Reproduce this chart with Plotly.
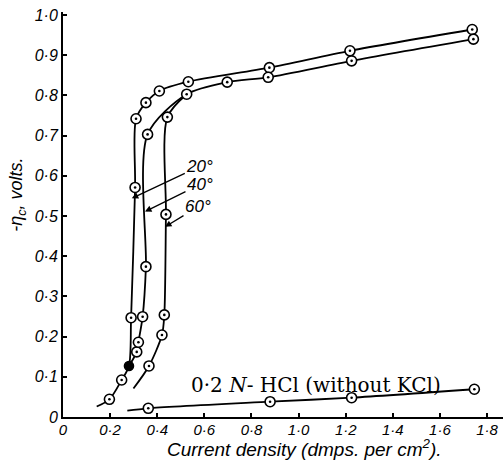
import plotly.graph_objects as go

# Cathode overpotential vs current density at three temperatures
# (line lead-in points carry no marker; marker lists hold measured points)
t20_line_x = [0.143, 0.197, 0.249, 0.280, 0.289, 0.306, 0.310, 0.352, 0.409, 0.532, 0.876, 1.218, 1.737]
t20_line_y = [0.026, 0.044, 0.092, 0.127, 0.247, 0.571, 0.742, 0.782, 0.811, 0.834, 0.869, 0.911, 0.964]
t20_pts_x = [0.197, 0.249, 0.289, 0.306, 0.310, 0.352, 0.409, 0.532, 0.876, 1.218, 1.737]
t20_pts_y = [0.044, 0.092, 0.247, 0.571, 0.742, 0.782, 0.811, 0.834, 0.869, 0.911, 0.964]
t20_solid_x = [0.280]
t20_solid_y = [0.127]

t40_line_x = [0.280, 0.313, 0.320, 0.338, 0.352, 0.359, 0.525, 0.697, 0.871, 1.225, 1.742]
t40_line_y = [0.127, 0.162, 0.186, 0.2495, 0.374, 0.703, 0.803, 0.833, 0.845, 0.886, 0.940]
t40_pts_x = [0.313, 0.320, 0.338, 0.352, 0.359, 0.525, 0.697, 0.871, 1.225, 1.742]
t40_pts_y = [0.162, 0.186, 0.2495, 0.374, 0.703, 0.803, 0.833, 0.845, 0.886, 0.940]

t60_line_x = [0.299, 0.365, 0.420, 0.430, 0.437, 0.443, 0.525]
t60_line_y = [0.071, 0.127, 0.204, 0.254, 0.504, 0.746, 0.803]
t60_pts_x = [0.365, 0.420, 0.430, 0.437, 0.443]
t60_pts_y = [0.127, 0.204, 0.254, 0.504, 0.746]

# 0.2 N HCl without KCl
hcl_line_x = [0.273, 0.362, 0.879, 1.225, 1.746]
hcl_line_y = [0.0157, 0.0216, 0.038, 0.048, 0.069]
hcl_pts_x = [0.362, 0.879, 1.225, 1.746]
hcl_pts_y = [0.0216, 0.038, 0.048, 0.069]

x_ticks = [0, 0.2, 0.4, 0.6, 0.8, 1.0, 1.2, 1.4, 1.6, 1.8]
x_ticktext = ["0", "0·2", "0·4", "0·6", "0·8", "1·0", "1·2", "1·4", "1·6", "1·8"]
y_ticks = [0, 0.1, 0.2, 0.3, 0.4, 0.5, 0.6, 0.7, 0.8, 0.9, 1.0]
y_ticktext = ["0", "0·1", "0·2", "0·3", "0·4", "0·5", "0·6", "0·7", "0·8", "0·9", "1·0"]

temp_labels = ["20°", "40°", "60°"]
arrow_tips_x = [0.292, 0.348, 0.433]
arrow_tips_y = [0.544, 0.511, 0.473]
label_offsets = [(68, -32), (55, -27), (33, -20)]

INK = "black"
fig = go.Figure()

for lx, ly in [(t20_line_x, t20_line_y), (t40_line_x, t40_line_y),
               (t60_line_x, t60_line_y), (hcl_line_x, hcl_line_y)]:
    fig.add_trace(go.Scatter(x=lx, y=ly, mode="lines",
                             line=dict(color=INK, width=1.8, shape="spline", smoothing=0.8),
                             hoverinfo="skip"))

all_px = t20_pts_x + t40_pts_x + t60_pts_x + hcl_pts_x
all_py = t20_pts_y + t40_pts_y + t60_pts_y + hcl_pts_y

# open circles with a centre dot
fig.add_trace(go.Scatter(x=all_px, y=all_py, mode="markers",
                         marker=dict(symbol="circle", size=10, color="white",
                                     line=dict(color=INK, width=1.6))))
fig.add_trace(go.Scatter(x=all_px, y=all_py, mode="markers",
                         marker=dict(symbol="circle", size=2.6, color=INK)))
fig.add_trace(go.Scatter(x=t20_solid_x, y=t20_solid_y, mode="markers",
                         marker=dict(symbol="circle", size=9, color=INK,
                                     line=dict(color=INK, width=1.6))))

for txt, tx, ty, (ax, ay) in zip(temp_labels, arrow_tips_x, arrow_tips_y, label_offsets):
    fig.add_annotation(x=tx, y=ty, xref="x", yref="y", text=txt,
                       showarrow=True, ax=ax, ay=ay, arrowhead=2, arrowsize=1,
                       arrowwidth=1.3, arrowcolor=INK,
                       font=dict(family="Liberation Sans", size=17, color=INK, style="italic"))

fig.add_annotation(x=1.074, y=0.080, xref="x", yref="y", showarrow=False,
                   xanchor="center", yanchor="middle",
                   text="0·2 <i>N</i>- HCl (without KCl)",
                   font=dict(family="DejaVu Serif", size=20, color=INK))

fig.add_annotation(x=1.027, y=-0.0765, xref="x", yref="paper", showarrow=False,
                   xanchor="center", yanchor="middle",
                   text="Current density (dmps. per cm<sup>2</sup>).",
                   font=dict(family="Liberation Sans", size=19, color=INK, style="italic"))

fig.add_annotation(x=-0.105, y=0.548, xref="paper", yref="paper", showarrow=False,
                   xanchor="center", yanchor="middle", textangle=-90,
                   text="-η<sub>c</sub>, volts.",
                   font=dict(family="Liberation Sans", size=18, color=INK, style="italic"))

x_font = dict(family="Liberation Sans", size=15, color=INK, style="italic")
y_font = dict(family="Liberation Sans", size=16, color=INK, style="italic")
fig.update_xaxes(range=[0, 1.8676], tickvals=x_ticks, ticktext=x_ticktext,
                 showline=True, linewidth=2, linecolor=INK, ticks="inside",
                 ticklen=4, tickwidth=1.5, tickcolor=INK, showgrid=False,
                 zeroline=False, tickfont=x_font, ticklabelstandoff=-2)
fig.update_yaxes(range=[0, 1.0075], tickvals=y_ticks, ticktext=y_ticktext,
                 showline=True, linewidth=2, linecolor=INK, ticks="inside",
                 ticklen=4, tickwidth=1.5, tickcolor=INK, showgrid=False,
                 zeroline=False, tickfont=y_font)

fig.update_layout(width=504, height=461, margin=dict(l=63, r=1, t=12, b=44),
                  paper_bgcolor="white", plot_bgcolor="white", showlegend=False)

fig.write_html("out.html")
